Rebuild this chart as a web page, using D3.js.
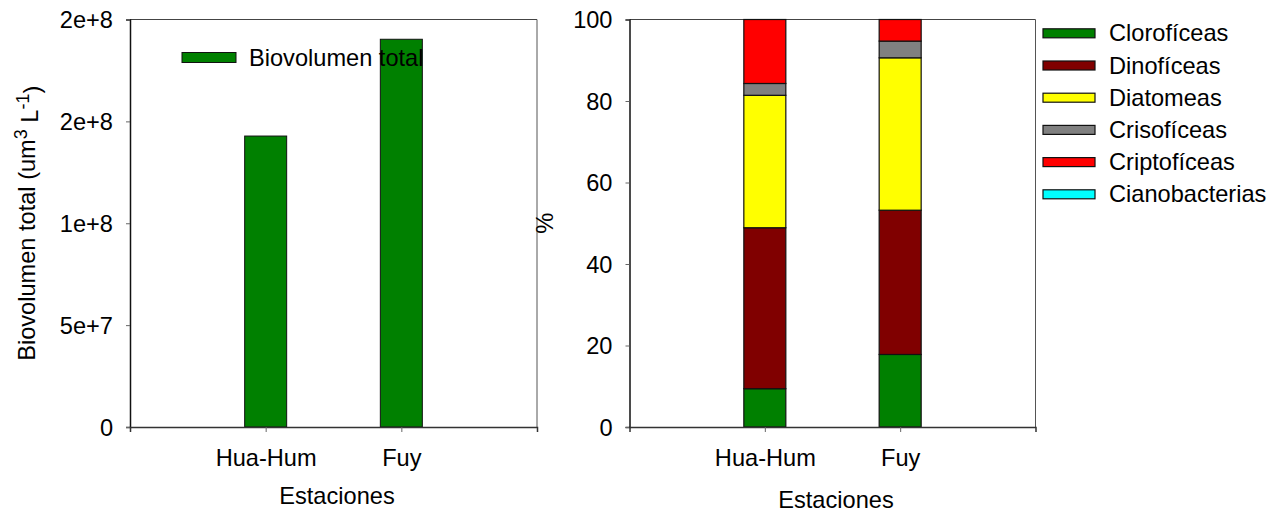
<!DOCTYPE html>
<html>
<head>
<meta charset="utf-8">
<script src="https://cdn.jsdelivr.net/npm/d3@7"></script>
<style>
  body { margin: 0; background: #fff; }
  svg { display: block; font-family: Arial, "Liberation Sans", sans-serif; }
  text { fill: #000; }
</style>
</head>
<body>
<svg id="chart" width="1280" height="513"></svg>
<script>
// data
const estaciones = ['Hua-Hum', 'Fuy'];
const biovolumen = [1.428e8, 1.903e8];
const leftTicks = [0, 5e7, 1e8, 1.5e8, 2e8];
const leftTickLabels = ['0', '5e+7', '1e+8', '2e+8', '2e+8'];

const grupos = ['Clorofíceas', 'Dinofíceas', 'Diatomeas', 'Crisofíceas', 'Criptofíceas', 'Cianobacterias'];
const colores = ['#008000', '#800000', '#ffff00', '#808080', '#ff0000', '#00ffff'];
const clorof = [9.4, 17.8];
const dinof = [39.5, 35.4];
const diatom = [32.5, 37.4];
const crisof = [2.9, 4.1];
const criptof = [15.7, 5.3];
const cianob = [0, 0];
const rightTicks = [0, 20, 40, 60, 80, 100];

const svg = d3.select('#chart');
const fs = 23.6;
const barW = 42;

function frame(g, w, h) {
  g.append('line').attr('x1', 0).attr('x2', w).attr('y1', 0).attr('y2', 0)
    .attr('stroke', '#444').attr('stroke-width', 1);
  g.append('line').attr('x1', w).attr('x2', w).attr('y1', 0).attr('y2', h)
    .attr('stroke', '#555').attr('stroke-width', 1);
}

function axes(g, x, y, w, h, ticks, labels) {
  const yAxis = d3.axisLeft(y).tickValues(ticks).tickSize(4).tickPadding(13)
    .tickFormat((d, i) => labels[i]);
  const ya = g.append('g').call(yAxis);
  ya.select('.domain').attr('stroke', '#111').attr('stroke-width', 1.5);
  ya.selectAll('.tick line').attr('stroke', '#666');
  ya.selectAll('.tick text').style('font-size', fs + 'px').attr('dy', '0.34em').style('fill', '#000');

  const xAxis = d3.axisBottom(x).tickSize(5).tickPadding(17);
  const xa = g.append('g').attr('transform', `translate(0,${h})`).call(xAxis);
  xa.select('.domain').attr('stroke', '#333').attr('stroke-width', 1.5);
  xa.selectAll('.tick line').attr('stroke', '#666');
  xa.selectAll('.tick text').style('font-size', fs + 'px').style('fill', '#000');
}

// ---- left chart ----
const L = { left: 130, top: 19.5, width: 407, height: 407.5 };
const gl = svg.append('g').attr('transform', `translate(${L.left},${L.top})`);
const xl = d3.scalePoint().domain(estaciones).range([0, L.width]).padding(1);
const yl = d3.scaleLinear().domain([0, 2e8]).range([L.height, 0]);

frame(gl, L.width, L.height);

gl.selectAll('rect.bar')
  .data(estaciones.map((e, i) => ({ name: e, value: biovolumen[i] })))
  .enter().append('rect')
  .attr('class', 'bar')
  .attr('x', d => xl(d.name) - barW / 2)
  .attr('y', d => yl(d.value))
  .attr('width', barW)
  .attr('height', d => yl(0) - yl(d.value))
  .attr('fill', '#008000')
  .attr('stroke', '#111')
  .attr('stroke-width', 1);

axes(gl, xl, yl, L.width, L.height, leftTicks, leftTickLabels);

// legend (left)
gl.append('rect').attr('x', 52).attr('y', 33).attr('width', 54).attr('height', 10)
  .attr('fill', '#008000').attr('stroke', '#111');
gl.append('text').attr('x', 119).attr('y', 46).style('font-size', fs + 'px').text('Biovolumen total');

// y label (left)
const ylab = svg.append('text')
  .attr('transform', `translate(35,${L.top + L.height / 2}) rotate(-90)`)
  .attr('text-anchor', 'middle')
  .style('font-size', fs + 'px');
ylab.append('tspan').text('Biovolumen total (um');
ylab.append('tspan').attr('dy', '-0.45em').style('font-size', '18px').text('3');
ylab.append('tspan').attr('dy', '0.45em').text(' L');
ylab.append('tspan').attr('dy', '-0.45em').style('font-size', '18px').text('-1');
ylab.append('tspan').attr('dy', '0.45em').text(')');

svg.append('text').attr('x', 337).attr('y', 504).attr('text-anchor', 'middle')
  .style('font-size', fs + 'px').text('Estaciones');

// ---- right chart ----
const R = { left: 629.5, top: 19.5, width: 406, height: 407.5 };
const gr = svg.append('g').attr('transform', `translate(${R.left},${R.top})`);
const xr = d3.scalePoint().domain(estaciones).range([0, R.width]).padding(1);
const yr = d3.scaleLinear().domain([0, 100]).range([R.height, 0]);

frame(gr, R.width, R.height);

const series = [clorof, dinof, diatom, crisof, criptof, cianob];
const rows = estaciones.map((e, i) => {
  const r = { name: e };
  grupos.forEach((gname, k) => { r[gname] = series[k][i]; });
  return r;
});
const stacked = d3.stack().keys(grupos)(rows);

gr.selectAll('g.layer')
  .data(stacked)
  .enter().append('g')
  .attr('class', 'layer')
  .attr('fill', (d, i) => colores[i])
  .selectAll('rect')
  .data(d => d.filter(s => s[1] - s[0] > 0))
  .enter().append('rect')
  .attr('x', d => xr(d.data.name) - barW / 2)
  .attr('y', d => yr(d[1]))
  .attr('width', barW)
  .attr('height', d => yr(d[0]) - yr(d[1]))
  .attr('stroke', '#111')
  .attr('stroke-width', 1.2);

axes(gr, xr, yr, R.width, R.height, rightTicks, rightTicks.map(String));

svg.append('text')
  .attr('transform', `translate(553,${R.top + R.height / 2}) rotate(-90)`)
  .attr('text-anchor', 'middle')
  .style('font-size', fs + 'px').text('%');

svg.append('text').attr('x', 836).attr('y', 508).attr('text-anchor', 'middle')
  .style('font-size', fs + 'px').text('Estaciones');

// legend (right)
const lg = svg.append('g').attr('transform', 'translate(1043,33.3)');
const item = lg.selectAll('g.item').data(grupos).enter().append('g')
  .attr('class', 'item')
  .attr('transform', (d, i) => `translate(0,${i * 32.2})`);
item.append('rect').attr('x', 0).attr('y', -4.5).attr('width', 52).attr('height', 9)
  .attr('fill', (d, i) => colores[i]).attr('stroke', '#111').attr('stroke-width', 1.2);
item.append('text').attr('x', 66).attr('y', 8).style('font-size', fs + 'px').text(d => d);
</script>
</body>
</html>
